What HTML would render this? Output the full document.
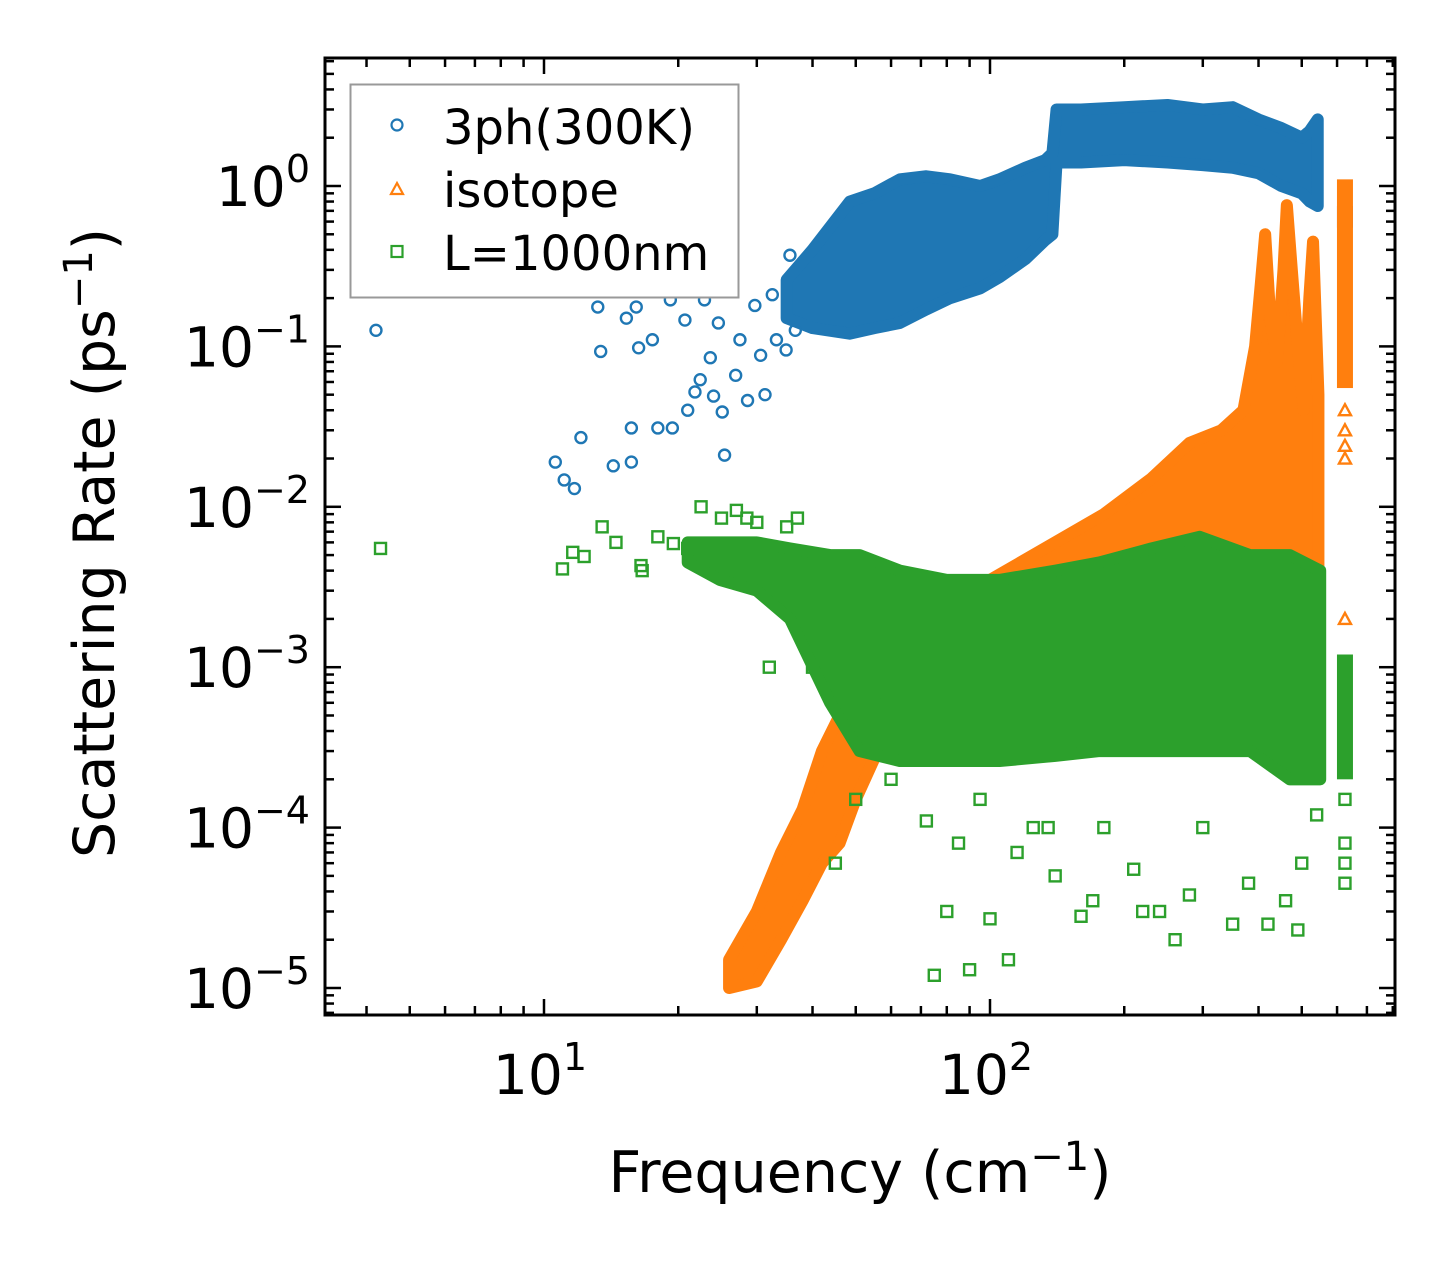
<!DOCTYPE html>
<html><head><meta charset="utf-8"><style>
html,body{margin:0;padding:0;background:#fff;}
svg{display:block;font-family:"DejaVu Sans","Liberation Sans",sans-serif;}
</style></head><body>
<svg id="chart" width="1455" height="1265" viewBox="0 0 1455 1265" xmlns="http://www.w3.org/2000/svg">
<rect width="1455" height="1265" fill="#fff"/>
<g id="marks"></g>
<g id="axes"></g>
<text x="860" y="1192" font-size="57" text-anchor="middle">Frequency (cm<tspan dy="-22" font-size="40">−1</tspan><tspan dy="22">)</tspan></text>
<text transform="translate(114,543) rotate(-90)" font-size="57" text-anchor="middle">Scattering Rate (ps<tspan dy="-22" font-size="40">−1</tspan><tspan dy="22">)</tspan></text>
<g>
<rect x="350.5" y="84.5" width="388" height="213" fill="#fff" stroke="#999" stroke-width="2"/>
<circle cx="397" cy="125" r="5.5" fill="none" stroke="#1f77b4" stroke-width="2.2"/>
<text x="443" y="144" font-size="48">3ph(300K)</text>
<polygon points="397,183 403,194 391,194" fill="none" stroke="#ff7f0e" stroke-width="2.2"/>
<text x="443" y="207" font-size="48">isotope</text>
<rect x="391.5" y="246" width="11" height="11" fill="none" stroke="#2ca02c" stroke-width="2.2"/>
<text x="443" y="270" font-size="48">L=1000nm</text>
</g>
</svg>
<script>
// ---- data (frequency cm^-1, rate ps^-1) ----
const blueBandFreq = [35, 40, 48.5, 55, 62.8, 72, 81.4, 95, 105, 120, 133, 138, 141, 160, 200, 250, 300, 350, 400, 450, 500, 521, 543];
const blueBandLo   = [0.15, 0.13, 0.12, 0.13, 0.14, 0.17, 0.2, 0.23, 0.27, 0.35, 0.46, 0.5, 1.4, 1.4, 1.45, 1.4, 1.35, 1.3, 1.2, 1.0, 0.9, 0.8, 0.75];
const blueBandHi   = [0.26, 0.4, 0.8, 0.9, 1.1, 1.15, 1.1, 1.0, 1.1, 1.3, 1.45, 1.6, 3.0, 3.0, 3.1, 3.2, 3.0, 3.1, 2.6, 2.3, 2.0, 2.2, 2.6];
const blueFreq = [4.2,10.6,11.1,11.7,12.1,13.2,13.4,14.3,15.3,15.7,15.7,16.1,16.3,17.5,18.0,19.2,19.4,20.7,21.0,21.8,22.4,22.9,23.6,24.0,24.6,25.1,25.4,26.1,26.9,27.5,28.6,29.7,30.6,31.3,32.5,33.2,34.9,35.6,36.6];
const blueRate = [0.126,0.019,0.0147,0.013,0.027,0.176,0.093,0.018,0.15,0.019,0.031,0.176,0.098,0.11,0.031,0.195,0.031,0.146,0.04,0.052,0.062,0.195,0.085,0.049,0.14,0.039,0.021,0.22,0.066,0.11,0.046,0.18,0.088,0.05,0.21,0.11,0.095,0.37,0.126];
const blueColFreq = [625, 625];
const blueColRate = [0.55, 0.75];

const orangeBandFreq = [26, 30, 34, 38, 42, 46, 50, 56, 70, 100, 140, 180, 230, 280, 330, 370, 393, 405, 414, 425, 440, 455, 463, 475, 490, 505, 520, 530, 545];
const orangeBandLo   = [1.0e-5, 1.1e-5, 2e-5, 3.5e-5, 6e-5, 8e-5, 1.5e-4, 3e-4, 5e-4, 6e-4, 1e-3, 1e-3, 1.5e-3, 2e-3, 2e-3, 3e-3, 3e-3, 3e-3, 3e-3, 3e-3, 3e-3, 3e-3, 3e-3, 3e-3, 3e-3, 3e-3, 3e-3, 3e-3, 3e-3];
const orangeBandHi   = [1.5e-5, 3e-5, 7e-5, 1.3e-4, 3e-4, 5e-4, 8e-4, 1.3e-3, 2.5e-3, 3.5e-3, 6e-3, 9e-3, 1.5e-2, 2.5e-2, 3e-2, 4e-2, 0.1, 0.25, 0.5, 0.15, 0.08, 0.3, 0.76, 0.3, 0.1, 0.04, 0.2, 0.45, 0.05];
const orangeColFreq = [625, 625];
const orangeColRate = [0.055, 1.1];
const orangeFreq = [625,625,625,625,625];
const orangeRate = [0.04,0.03,0.024,0.02,0.002];

const greenBandFreq = [21, 24.8, 30, 35.6, 43.8, 51, 62.8, 80, 105, 140, 176, 230, 295, 383, 470, 550];
const greenBandLo   = [4.5e-3, 3.5e-3, 3e-3, 2e-3, 6e-4, 3e-4, 2.6e-4, 2.6e-4, 2.6e-4, 2.8e-4, 3e-4, 3e-4, 3e-4, 3e-4, 2e-4, 2e-4];
const greenBandHi   = [6e-3, 6e-3, 6e-3, 5.5e-3, 5e-3, 5e-3, 4e-3, 3.5e-3, 3.5e-3, 4e-3, 4.5e-3, 5.5e-3, 6.5e-3, 5e-3, 5e-3, 4e-3];
const greenFreq = [4.3,11,11.6,12.3,13.5,14.5,16.5,16.6,18,19.5,21,22.5,25,27,28.5,30,32,35,37,40,45,50,55,60,72,75,80,85,90,95,100,110,115,125,135,140,160,170,180,210,220,240,260,280,300,350,380,420,460,490,500,540,625,625,625,625];
const greenRate = [5.5e-3,4.1e-3,5.2e-3,4.9e-3,7.5e-3,6e-3,4.3e-3,4e-3,6.5e-3,5.9e-3,5.5e-3,1e-2,8.5e-3,9.5e-3,8.5e-3,8e-3,1e-3,7.5e-3,8.5e-3,1e-3,6e-5,1.5e-4,7e-4,2e-4,1.1e-4,1.2e-5,3e-5,8e-5,1.3e-5,1.5e-4,2.7e-5,1.5e-5,7e-5,1e-4,1e-4,5e-5,2.8e-5,3.5e-5,1e-4,5.5e-5,3e-5,3e-5,2e-5,3.8e-5,1e-4,2.5e-5,4.5e-5,2.5e-5,3.5e-5,2.3e-5,6e-5,1.2e-4,1.5e-4,8e-5,6e-5,4.5e-5];
const greenColFreq = [625, 625];
const greenColRate = [2e-4, 1.2e-3];

const xTickVals = [10, 100];
const xTickLabels = ["1", "2"];
const yTickExps = [0, -1, -2, -3, -4, -5];

// ---- axes ----
const L = 325, R = 1395, T = 58, B = 1015;
const X0 = 544, XDEC = 446;
const Y0 = 186, YDEC = 160.4;
function sx(f){ return X0 + (Math.log10(f) - 1) * XDEC; }
function sy(r){ return Y0 - Math.log10(r) * YDEC; }

const NS = "http://www.w3.org/2000/svg";
const marks = document.getElementById('marks');
const axes = document.getElementById('axes');
function mk(tag, attrs, parent){
  const e = document.createElementNS(NS, tag);
  for (const k in attrs) e.setAttribute(k, attrs[k]);
  parent.appendChild(e);
  return e;
}

const defs = mk('defs', {}, marks);
const cp = mk('clipPath', {id: 'pc'}, defs);
mk('rect', {x: L, y: T, width: R - L, height: B - T}, cp);
const plot = mk('g', {'clip-path': 'url(#pc)'}, marks);

function band(freq, lo, hi, color, name){
  let pts = [];
  for (let i = 0; i < freq.length; i++) pts.push(sx(freq[i]) + ',' + sy(hi[i]));
  for (let i = freq.length - 1; i >= 0; i--) pts.push(sx(freq[i]) + ',' + sy(lo[i]));
  const p = mk('polygon', {points: pts.join(' '), fill: color, stroke: color, 'stroke-width': 12, 'stroke-linejoin': 'round'}, plot);
  
  
}
function circles(fr, rt, color, name){
  for (let i = 0; i < fr.length; i++){
    const c = mk('circle', {cx: sx(fr[i]), cy: sy(rt[i]), r: 5.5, fill: 'none', stroke: color, 'stroke-width': 2.4}, plot);
    
    
  }
}
function tris(fr, rt, color, name){
  for (let i = 0; i < fr.length; i++){
    const x = sx(fr[i]), y = sy(rt[i]);
    const t = mk('polygon', {points: x + ',' + (y - 6) + ' ' + (x + 6) + ',' + (y + 5) + ' ' + (x - 6) + ',' + (y + 5), fill: 'none', stroke: color, 'stroke-width': 2.4}, plot);
    
    
  }
}
function squares(fr, rt, color, name){
  for (let i = 0; i < fr.length; i++){
    const s = mk('rect', {x: sx(fr[i]) - 5.5, y: sy(rt[i]) - 5.5, width: 11, height: 11, fill: 'none', stroke: color, 'stroke-width': 2.4}, plot);
    
    
  }
}
function column(fr, rt, color, name){
  const x = sx(fr[0]);
  const r = mk('rect', {x: x - 8, y: sy(rt[1]), width: 16, height: sy(rt[0]) - sy(rt[1]), fill: color}, plot);
  
  
}

band(blueBandFreq, blueBandLo, blueBandHi, '#1f77b4', 'band-3ph');
circles(blueFreq, blueRate, '#1f77b4', 'point-3ph');
column(blueColFreq, blueColRate, '#1f77b4', 'column-3ph');
band(orangeBandFreq, orangeBandLo, orangeBandHi, '#ff7f0e', 'band-isotope');
column(orangeColFreq, orangeColRate, '#ff7f0e', 'column-isotope');
tris(orangeFreq, orangeRate, '#ff7f0e', 'point-isotope');
band(greenBandFreq, greenBandLo, greenBandHi, '#2ca02c', 'band-boundary');
squares(greenFreq, greenRate, '#2ca02c', 'point-boundary');
column(greenColFreq, greenColRate, '#2ca02c', 'column-boundary');

const fr = mk('rect', {x: L, y: T, width: R - L, height: B - T, fill: 'none', stroke: '#000', 'stroke-width': 3}, axes);



const xmin = Math.pow(10, 1 + (L - X0) / XDEC), xmax = Math.pow(10, 1 + (R - X0) / XDEC);
for (let d = 0; d <= 3; d++){
  for (let m = 1; m <= 9; m++){
    const v = m * Math.pow(10, d);
    if (v < xmin || v > xmax) continue;
    const x = sx(v), len = m === 1 ? 16 : 9;
    mk('line', {x1: x, x2: x, y1: B, y2: B - len, stroke: '#000', 'stroke-width': 2.5}, axes);
    mk('line', {x1: x, x2: x, y1: T, y2: T + len, stroke: '#000', 'stroke-width': 2.5}, axes);
  }
}
for (let i = 0; i < xTickVals.length; i++){
  const x = sx(xTickVals[i]);
  const t = mk('text', {x: x - 4, y: 1094, 'font-size': 55, 'text-anchor': 'middle'}, axes);
  
  
  t.textContent = '10';
  const s = mk('tspan', {dy: -24, 'font-size': 38}, t);
  s.textContent = xTickLabels[i];
}
for (let e = -6; e <= 1; e++){
  for (let m = 1; m <= 9; m++){
    const v = m * Math.pow(10, e);
    const y = sy(v);
    if (y < T || y > B) continue;
    const len = m === 1 ? 16 : 9;
    mk('line', {x1: L, x2: L + len, y1: y, y2: y, stroke: '#000', 'stroke-width': 2.5}, axes);
    mk('line', {x1: R, x2: R - len, y1: y, y2: y, stroke: '#000', 'stroke-width': 2.5}, axes);
  }
}
for (let i = 0; i < yTickExps.length; i++){
  const y = sy(Math.pow(10, yTickExps[i]));
  const t = mk('text', {x: 310, y: y + 20, 'font-size': 55, 'text-anchor': 'end'}, axes);
  
  
  t.textContent = '10';
  const s = mk('tspan', {dy: -24, 'font-size': 38}, t);
  s.textContent = yTickExps[i] === 0 ? '0' : '−' + Math.abs(yTickExps[i]);
}
</script>
</body></html>
